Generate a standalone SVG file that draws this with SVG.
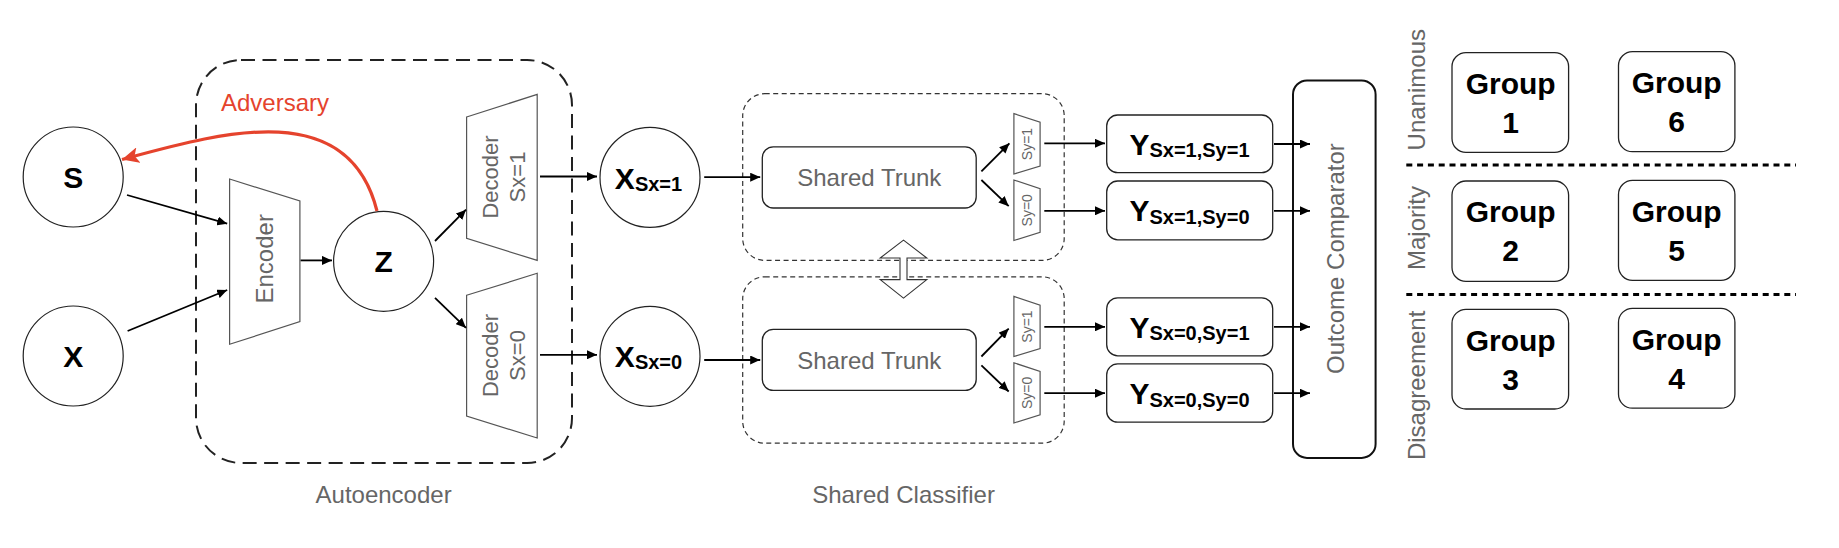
<svg xmlns="http://www.w3.org/2000/svg" width="1839" height="548" viewBox="0 0 1839 548">
<defs>
<style>
text{font-family:"Liberation Sans",Arial,Helvetica,sans-serif}
.circ{fill:#fff;stroke:#222;stroke-width:1.2}
.trap{fill:#fff;stroke:#555;stroke-width:1.2}
.box{fill:#fff;stroke:#222;stroke-width:1.3}
.gray{fill:#666;font-size:24px}
.bold{fill:#000;font-weight:bold}
.big{font-size:30px}
.sub{font-size:20px}
.conn line,.conn path{stroke:#000;stroke-width:1.8;fill:none}
.conn .arr{marker-end:url(#ah)}
.dash1{fill:none;stroke:#222;stroke-width:2;stroke-dasharray:14 7.5}
.dash2{fill:none;stroke:#333;stroke-width:1.2;stroke-dasharray:5 3.5}
.sep{stroke:#000;stroke-width:3;stroke-dasharray:6 4.8}
</style>
<marker id="ah" markerUnits="userSpaceOnUse" markerWidth="10" markerHeight="9" refX="10" refY="4.5" orient="auto">
<path d="M0,0 L10,4.5 L0,9 z" fill="#000"/>
</marker>
<marker id="ahr" markerUnits="userSpaceOnUse" markerWidth="18" markerHeight="16" refX="17" refY="8" orient="auto">
<path d="M0,0 L17,8 L0,16 L4,8 z" fill="#e5432d"/>
</marker>
</defs>
<rect width="1839" height="548" fill="#fff"/>

<g id="autoencoder-group">
<rect class="dash1" x="196" y="60" width="376" height="403" rx="45"/>
<text class="gray" x="383.6" y="503" text-anchor="middle">Autoencoder</text>
</g>

<g id="shared-classifier-group">
<rect class="dash2" x="742.7" y="93.7" width="321.5" height="166.7" rx="22"/>
<rect class="dash2" x="742.7" y="276.8" width="321.5" height="166.4" rx="22"/>
<text class="gray" x="903.6" y="503" text-anchor="middle">Shared Classifier</text>
</g>

<g id="node-S">
<circle class="circ" cx="73.2" cy="177" r="50"/>
<text class="bold big" x="73.2" y="188" text-anchor="middle">S</text>
</g>
<g id="node-X">
<circle class="circ" cx="73.2" cy="356" r="50"/>
<text class="bold big" x="73.2" y="367" text-anchor="middle">X</text>
</g>
<g id="node-encoder">
<polygon class="trap" points="229.6,179 299.9,201 299.9,321.6 229.6,344.3"/>
<text class="gray" transform="translate(264.75,258.8) rotate(-90)" x="0" y="8.6" text-anchor="middle">Encoder</text>
</g>
<g id="node-Z">
<circle class="circ" cx="383.6" cy="261.3" r="50"/>
<text class="bold big" x="383.6" y="272.4" text-anchor="middle">Z</text>
</g>
<g id="node-decoder1">
<polygon class="trap" points="466.6,117 537.2,94.4 537.2,260.4 466.6,238.4"/>
<text fill="#666" font-size="22" transform="translate(501.9,177) rotate(-90)" text-anchor="middle"><tspan x="0" y="-4">Decoder</tspan><tspan x="0" y="23">Sx=1</tspan></text>
</g>
<g id="node-decoder0">
<polygon class="trap" points="466.6,295.3 537.2,273.3 537.2,438 466.6,416"/>
<text fill="#666" font-size="22" transform="translate(501.9,355.5) rotate(-90)" text-anchor="middle"><tspan x="0" y="-4">Decoder</tspan><tspan x="0" y="23">Sx=0</tspan></text>
</g>
<g id="node-Xsx1">
<circle class="circ" cx="650" cy="177.4" r="50"/>
<text class="bold" x="648.5" y="188.5" text-anchor="middle"><tspan class="big">X</tspan><tspan class="sub" dy="2">Sx=1</tspan></text>
</g>
<g id="node-Xsx0">
<circle class="circ" cx="650" cy="356.3" r="50"/>
<text class="bold" x="648.5" y="367" text-anchor="middle"><tspan class="big">X</tspan><tspan class="sub" dy="2">Sx=0</tspan></text>
</g>
<g id="node-trunk1">
<rect class="box" x="762.3" y="146.8" width="213.9" height="61.2" rx="11"/>
<text class="gray" x="869.3" y="186" text-anchor="middle">Shared Trunk</text>
</g>
<g id="node-trunk0">
<rect class="box" x="762.3" y="329.3" width="213.9" height="61.1" rx="11"/>
<text class="gray" x="869.3" y="368.6" text-anchor="middle">Shared Trunk</text>
</g>
<g id="node-head-1-1">
<polygon class="trap" points="1013.9,113.6 1040.1,122.3 1040.1,166 1013.9,174"/>
<text fill="#666" font-size="14" transform="translate(1027,144) rotate(-90)" x="0" y="5" text-anchor="middle">Sy=1</text>
</g>
<g id="node-head-1-0">
<polygon class="trap" points="1013.9,180 1040.1,188.7 1040.1,232.4 1013.9,240.5"/>
<text fill="#666" font-size="14" transform="translate(1027,210.3) rotate(-90)" x="0" y="5" text-anchor="middle">Sy=0</text>
</g>
<g id="node-head-0-1">
<polygon class="trap" points="1013.9,296.4 1040.1,305.1 1040.1,348.5 1013.9,356.5"/>
<text fill="#666" font-size="14" transform="translate(1027,326.5) rotate(-90)" x="0" y="5" text-anchor="middle">Sy=1</text>
</g>
<g id="node-head-0-0">
<polygon class="trap" points="1013.9,362.8 1040.1,371.5 1040.1,414.9 1013.9,423"/>
<text fill="#666" font-size="14" transform="translate(1027,392.9) rotate(-90)" x="0" y="5" text-anchor="middle">Sy=0</text>
</g>
<g id="node-share-link">
<polygon points="903.5,240.1 926.8,258 907,258 907,279.6 926.8,279.6 903.5,298.1 880.2,279.6 900,279.6 900,258 880.2,258" fill="#fff" stroke="#333" stroke-width="1.1"/>
</g>
<g id="node-Y11">
<rect class="box" x="1106.7" y="115" width="166" height="57.7" rx="11"/>
<text class="bold" x="1189.5" y="155" text-anchor="middle"><tspan class="big">Y</tspan><tspan class="sub" dy="2.4">Sx=1,Sy=1</tspan></text>
</g>
<g id="node-Y10">
<rect class="box" x="1106.7" y="181" width="166" height="58.8" rx="11"/>
<text class="bold" x="1189.5" y="221.4" text-anchor="middle"><tspan class="big">Y</tspan><tspan class="sub" dy="2.4">Sx=1,Sy=0</tspan></text>
</g>
<g id="node-Y01">
<rect class="box" x="1106.7" y="297.8" width="166" height="58" rx="11"/>
<text class="bold" x="1189.5" y="337.8" text-anchor="middle"><tspan class="big">Y</tspan><tspan class="sub" dy="2.4">Sx=0,Sy=1</tspan></text>
</g>
<g id="node-Y00">
<rect class="box" x="1106.7" y="363.9" width="166" height="58.3" rx="11"/>
<text class="bold" x="1189.5" y="404.2" text-anchor="middle"><tspan class="big">Y</tspan><tspan class="sub" dy="2.4">Sx=0,Sy=0</tspan></text>
</g>
<g id="node-comparator">
<rect x="1293" y="80.4" width="82.6" height="377.5" rx="14" fill="#fff" stroke="#111" stroke-width="2"/>
<text class="gray" transform="translate(1335.4,258.6) rotate(-90)" x="0" y="9" text-anchor="middle">Outcome Comparator</text>
</g>
<g id="row-labels">
<text class="gray" transform="translate(1416,89.7) rotate(-90)" x="0" y="8.5" text-anchor="middle">Unanimous</text>
<text class="gray" transform="translate(1416,228) rotate(-90)" x="0" y="8.5" text-anchor="middle">Majority</text>
<text class="gray" transform="translate(1416,385.4) rotate(-90)" x="0" y="8.5" text-anchor="middle">Disagreement</text>
<line class="sep" x1="1406.3" y1="165" x2="1796" y2="165"/>
<line class="sep" x1="1406.3" y1="294.6" x2="1796" y2="294.6"/>
</g>
<g id="node-G1">
<rect class="box" x="1452" y="52.6" width="116.6" height="99.8" rx="14"/>
<text class="bold big" text-anchor="middle"><tspan x="1510.7" y="94">Group</tspan><tspan x="1510.7" y="133">1</tspan></text>
</g>
<g id="node-G6">
<rect class="box" x="1618.5" y="51.7" width="116.4" height="100" rx="14"/>
<text class="bold big" text-anchor="middle"><tspan x="1676.7" y="93">Group</tspan><tspan x="1676.7" y="132.1">6</tspan></text>
</g>
<g id="node-G2">
<rect class="box" x="1452" y="181" width="116.6" height="100.4" rx="14"/>
<text class="bold big" text-anchor="middle"><tspan x="1510.7" y="222.3">Group</tspan><tspan x="1510.7" y="261.4">2</tspan></text>
</g>
<g id="node-G5">
<rect class="box" x="1618.5" y="180.4" width="116.4" height="99.9" rx="14"/>
<text class="bold big" text-anchor="middle"><tspan x="1676.7" y="221.7">Group</tspan><tspan x="1676.7" y="260.8">5</tspan></text>
</g>
<g id="node-G3">
<rect class="box" x="1452" y="309.3" width="116.6" height="99.7" rx="14"/>
<text class="bold big" text-anchor="middle"><tspan x="1510.7" y="350.6">Group</tspan><tspan x="1510.7" y="389.7">3</tspan></text>
</g>
<g id="node-G4">
<rect class="box" x="1618.5" y="308.3" width="116.4" height="99.9" rx="14"/>
<text class="bold big" text-anchor="middle"><tspan x="1676.7" y="349.6">Group</tspan><tspan x="1676.7" y="388.7">4</tspan></text>
</g>

<g id="connectors" class="conn">
<line class="arr" x1="127" y1="195" x2="227.2" y2="223.7"/>
<line class="arr" x1="127.6" y1="331" x2="227.2" y2="290"/>
<line class="arr" x1="300.6" y1="260.4" x2="332" y2="260.4"/>
<line class="arr" x1="435" y1="241" x2="466" y2="209.7"/>
<line class="arr" x1="435" y1="297.8" x2="466" y2="327.9"/>
<line class="arr" x1="540" y1="176.5" x2="597" y2="176.5"/>
<line class="arr" x1="540" y1="354.8" x2="597" y2="354.8"/>
<line class="arr" x1="704.2" y1="177.2" x2="760.2" y2="177.2"/>
<line class="arr" x1="704.2" y1="360" x2="760.2" y2="360"/>
<line class="arr" x1="981.4" y1="171.3" x2="1009.4" y2="143.3"/>
<line class="arr" x1="981.4" y1="180" x2="1008.7" y2="206.2"/>
<line class="arr" x1="981.4" y1="356.5" x2="1008.7" y2="328.6"/>
<line class="arr" x1="981.4" y1="365.3" x2="1008.7" y2="391.5"/>
<line class="arr" x1="1044.3" y1="143.3" x2="1105" y2="143.3"/>
<line class="arr" x1="1044.3" y1="210.8" x2="1105" y2="210.8"/>
<line class="arr" x1="1044.3" y1="326.8" x2="1105" y2="326.8"/>
<line class="arr" x1="1044.3" y1="393.2" x2="1105" y2="393.2"/>
<line class="arr" x1="1274" y1="144" x2="1310" y2="144"/>
<line class="arr" x1="1274" y1="210.8" x2="1310" y2="210.8"/>
<line class="arr" x1="1274" y1="326.8" x2="1310" y2="326.8"/>
<line class="arr" x1="1274" y1="393.2" x2="1310" y2="393.2"/>
<path d="M377,211 C348,95.2 219,133.3 122,159.5" style="stroke:#e5432d;stroke-width:3.2;fill:none" marker-end="url(#ahr)"/>
<text x="221" y="111" fill="#e5432d" font-size="24">Adversary</text>
</g>
</svg>
